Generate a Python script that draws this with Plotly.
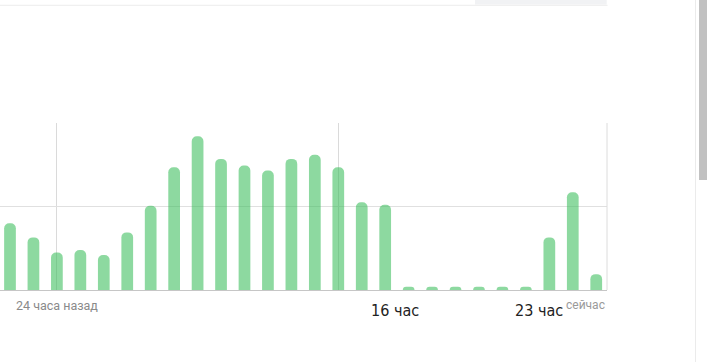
import plotly.graph_objects as go

# Hourly activity values (arbitrary units; grid step = 1)
hours = list(range(26))
values = [0.80, 0.63, 0.45, 0.48, 0.42, 0.69, 1.01, 1.47, 1.84, 1.57,
          1.49, 1.43, 1.57, 1.62, 1.47, 1.05, 1.02, 0.04, 0.04, 0.04,
          0.04, 0.04, 0.04, 0.63, 1.17, 0.19]

# Axis labels and their positions on the hour axis
grid_hours = [2, 14]
label_left = "24 часа назад"
label_left_pos = 2
bold_labels = ["16 час", "23 час"]
bold_label_pos = [16.42, 22.57]
label_right = "сейчас"

fig = go.Figure()
fig.add_trace(go.Bar(
    x=hours, y=values, width=0.5,
    marker=dict(color="rgba(58,190,92,0.58)", line=dict(width=0), cornerradius=5),
    hoverinfo="skip",
))

annotations = [
    dict(x=label_left_pos, y=0, xref="x", yref="y", text=label_left, showarrow=False,
         xanchor="center", yanchor="top", yshift=-6,
         font=dict(family="Roboto, sans-serif", size=12.5, color="#8a8a8a")),
    dict(x=1.0, y=0, xref="paper", yref="y", text=label_right, showarrow=False,
         xanchor="right", yanchor="top", yshift=-6,
         font=dict(family="Roboto, sans-serif", size=12, color="#9a9a9a")),
]
for t, p in zip(bold_labels, bold_label_pos):
    annotations.append(dict(
        x=p, y=0, xref="x", yref="y", text=t, showarrow=False,
        xanchor="center", yanchor="top", yshift=-9,
        font=dict(family="'Liberation Sans Narrow', 'DejaVu Sans Condensed', 'Roboto Condensed', Roboto, sans-serif",
                  size=16, color="#222222")))

shapes = [
    # right border of plot
    dict(type="line", xref="paper", yref="paper", x0=1, x1=1, y0=0, y1=1,
         line=dict(color="#dcdcdc", width=1)),
    # page chrome: top separator line
    dict(type="line", xref="paper", yref="paper", x0=0, x1=1.001, y0=1.705, y1=1.705,
         line=dict(color="#ececec", width=1)),
    # page chrome: grey tab at top right
    dict(type="rect", xref="paper", yref="paper", x0=0.7825, x1=0.9995, y0=1.7096, y1=1.77,
         fillcolor="#f1f2f4", line=dict(width=0), layer="below"),
    # scrollbar track line
    dict(type="line", xref="paper", yref="paper", x0=1.1458, x1=1.1458, y0=-0.45, y1=1.75,
         line=dict(color="#ebebeb", width=1)),
    # scrollbar thumb
    dict(type="rect", xref="paper", yref="paper", x0=1.1516, x1=1.166, y0=0.6587, y1=1.75,
         fillcolor="#c1c1c1", line=dict(width=0)),
]

fig.update_layout(
    width=707, height=362,
    margin=dict(l=0, r=100, t=123, b=72, pad=0),
    paper_bgcolor="white", plot_bgcolor="white",
    showlegend=False,
    bargap=0.5,
    annotations=annotations,
    shapes=shapes,
    xaxis=dict(range=[-0.426, 25.459], tickvals=grid_hours, showticklabels=False,
               showgrid=True, gridcolor="#dadada", gridwidth=1, zeroline=False,
               showline=True, linecolor="#c6c6c6", linewidth=1, ticks="", fixedrange=True),
    yaxis=dict(range=[0, 2], tickvals=[1, 2], showticklabels=False,
               showgrid=True, gridcolor="#e0e0e0", gridwidth=1, zeroline=False,
               showline=False, ticks="", fixedrange=True),
)

fig.write_html("out.html", config={"displayModeBar": False})
